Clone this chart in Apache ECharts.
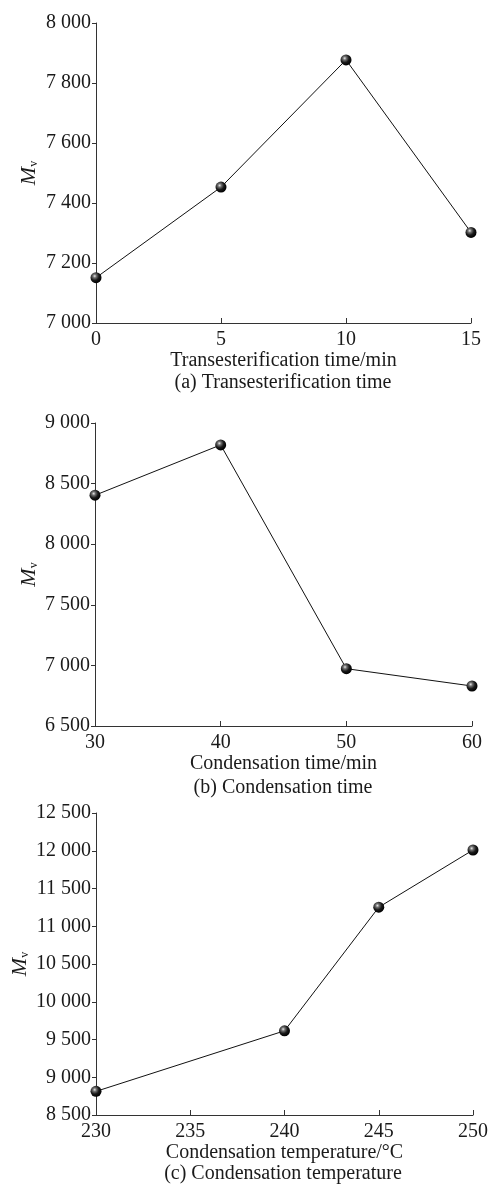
<!DOCTYPE html>
<html>
<head>
<meta charset="utf-8">
<script src="https://cdn.jsdelivr.net/npm/echarts@6/dist/echarts.min.js"></script>
<style>
  html, body { margin: 0; padding: 0; background: #fff; }
  #main { width: 490px; height: 1185px; }
</style>
</head>
<body>
<div id="main"></div>
<script>
// (a) transesterification time
var transTime = [0, 5, 10, 15];
var transMv = [7151, 7453, 7877, 7302];
// (b) condensation time
var condTime = [30, 40, 50, 60];
var condTimeMv = [8404, 8819, 6973, 6830];
// (c) condensation temperature
var condTemp = [230, 240, 245, 250];
var condTempMv = [8813, 9615, 11252, 12010];

var xNames = ['Transesterification time/min', 'Condensation time/min', 'Condensation temperature/\u00b0C'];
var captions = ['(a) Transesterification time', '(b) Condensation time', '(c) Condensation temperature'];

var font = 'Liberation Serif';
var ink = '#1a1a1a';

function thousands(v) {
  return String(v).replace(/\B(?=(\d{3})+(?!\d))/g, ' ');
}

var sphere = {
  type: 'radial', x: 0.38, y: 0.35, r: 0.65,
  colorStops: [
    { offset: 0, color: '#e8e8e8' },
    { offset: 0.25, color: '#707070' },
    { offset: 0.6, color: '#1a1a1a' },
    { offset: 1, color: '#000' }
  ]
};

var grids = [
  { left: 96, top: 23, width: 375, height: 300, outerBoundsMode: 'none', containLabel: false },
  { left: 95, top: 423, width: 377, height: 303, outerBoundsMode: 'none', containLabel: false },
  { left: 96, top: 813, width: 377, height: 302, outerBoundsMode: 'none', containLabel: false }
];

var xCfg = [
  { min: 0, max: 15, interval: 5 },
  { min: 30, max: 60, interval: 10 },
  { min: 230, max: 250, interval: 5 }
];
var yCfg = [
  { min: 7000, max: 8000, interval: 200, nameGap: 56 },
  { min: 6500, max: 9000, interval: 500, nameGap: 55 },
  { min: 8500, max: 12500, interval: 500, nameGap: 65 }
];
var captionTop = [373, 778, 1164];

var xs = [transTime, condTime, condTemp];
var ys = [transMv, condTimeMv, condTempMv];

var myChart = echarts.init(document.getElementById('main'));

var option = {
  backgroundColor: '#fff',
  animation: false,
  textStyle: { fontFamily: font, color: ink },
  grid: grids,
  title: captions.map(function (c, i) {
    return {
      text: c, left: 283, top: captionTop[i], textAlign: 'center', padding: 0,
      textStyle: { fontFamily: font, fontSize: 20, fontWeight: 'normal', color: ink }
    };
  }),
  xAxis: xCfg.map(function (c, i) {
    return {
      type: 'value', gridIndex: i, min: c.min, max: c.max, interval: c.interval,
      name: xNames[i], nameLocation: 'middle', nameGap: 27,
      nameTextStyle: { fontFamily: font, fontSize: 20, color: ink },
      axisLine: { onZero: false, lineStyle: { color: '#333', width: 1 } },
      axisTick: { inside: true, length: 5, lineStyle: { color: '#333' } },
      axisLabel: { fontFamily: font, fontSize: 20, color: ink, margin: 7 },
      splitLine: { show: false }
    };
  }),
  yAxis: yCfg.map(function (c, i) {
    return {
      type: 'value', gridIndex: i, min: c.min, max: c.max, interval: c.interval,
      name: '{m|M}{v|v}', nameLocation: 'middle', nameGap: c.nameGap, nameRotate: 90,
      nameMoveOverlap: false,
      nameTextStyle: {
        rich: {
          m: { fontFamily: font, fontStyle: 'italic', fontSize: 22, color: ink, lineHeight: 22 },
          v: { fontFamily: font, fontSize: 12, color: ink, lineHeight: 22, verticalAlign: 'bottom', padding: [9, 0, 0, 0] }
        }
      },
      axisLine: { show: true, lineStyle: { color: '#333', width: 1 } },
      axisTick: { show: true, inside: false, length: 4, lineStyle: { color: '#333' } },
      axisLabel: { fontFamily: font, fontSize: 20, color: ink, margin: 5, formatter: thousands },
      splitLine: { show: false }
    };
  }),
  series: ys.map(function (vals, i) {
    return {
      type: 'line', xAxisIndex: i, yAxisIndex: i,
      data: vals.map(function (v, j) { return [xs[i][j], v]; }),
      symbol: 'circle', symbolSize: 11,
      lineStyle: { color: '#111', width: 1 },
      itemStyle: { color: sphere, borderWidth: 0 },
      z: 3
    };
  })
};

myChart.setOption(option);
</script>
</body>
</html>
